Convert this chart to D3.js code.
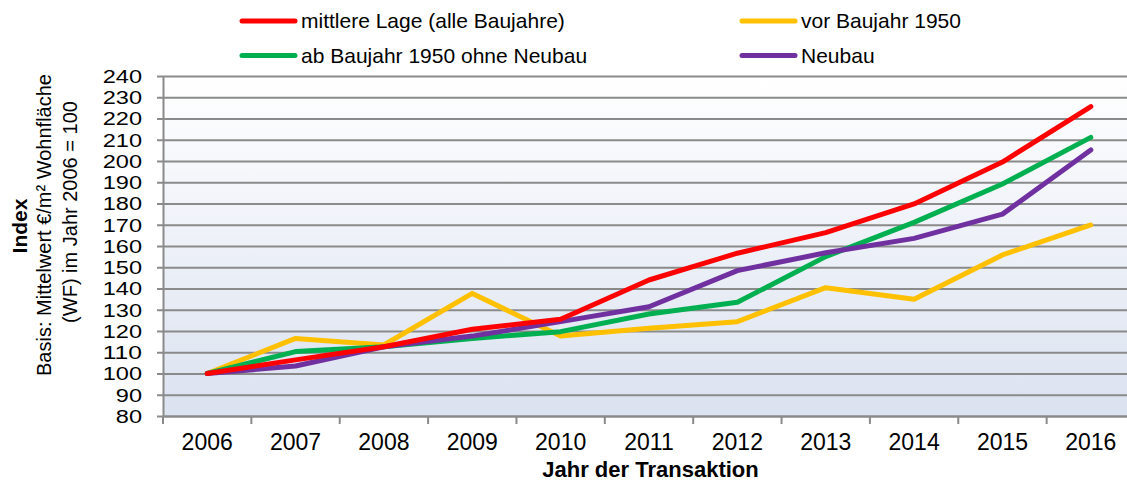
<!DOCTYPE html>
<html><head><meta charset="utf-8">
<script src="https://cdn.jsdelivr.net/npm/d3@7/dist/d3.min.js"></script>
<style>
html,body{margin:0;padding:0;background:#fff;}
svg{display:block;font-family:"Liberation Sans",Arial,sans-serif;}
</style></head>
<body><svg id="c" width="1127" height="481"></svg>
<script>
const years = ["2006","2007","2008","2009","2010","2011","2012","2013","2014","2015","2016"];
const mittlereLage = [100,106.4,112.6,120.8,125.5,144,156.6,166.3,179.8,199.5,225.6];
const vorBaujahr1950 = [100,116.5,113.4,137.7,117.6,121.3,124.4,140.4,134.9,155.8,169.9];
const abBaujahr1950 = [100,110.3,112.6,116.5,119.7,128,133.5,155,171.1,189.2,211.1];
const neubau = [100,103.5,112.6,117.6,124.4,131.4,148.4,156.8,163.6,175,205.2];
const yTicks = [80,90,100,110,120,130,140,150,160,170,180,190,200,210,220,230,240];
const seriesNames = ["mittlere Lage (alle Baujahre)","vor Baujahr 1950","ab Baujahr 1950 ohne Neubau","Neubau"];
const seriesColors = ["#ff0000","#ffc000","#00b050","#7030a0"];
const seriesValues = [mittlereLage, vorBaujahr1950, abBaujahr1950, neubau];

const svg = d3.select("#c");
const L = 163, R = 1135, T = 76, B = 416;
const x = d3.scaleBand().domain(years).range([L, R]).paddingInner(0).paddingOuter(0);
const y = d3.scaleLinear().domain([80, 240]).range([B, T]);

// background gradient
const defs = svg.append("defs");
const grad = defs.append("linearGradient").attr("id","bg").attr("x1",0).attr("y1",0).attr("x2",0).attr("y2",1);
grad.append("stop").attr("offset","0%").attr("stop-color","#ffffff");
grad.append("stop").attr("offset","100%").attr("stop-color","#dbe2f0");
svg.append("rect").attr("x",L).attr("y",T).attr("width",R-L).attr("height",B-T).attr("fill","url(#bg)");

// gridlines
const grid = svg.append("g").attr("transform",`translate(${L},0)`)
  .call(d3.axisLeft(y).tickValues(yTicks).tickSize(-(R-L)).tickFormat(""));
grid.select(".domain").remove();
grid.selectAll("line").attr("stroke","#8a8a8a").attr("stroke-width",2);

// y axis
const ya = svg.append("g").attr("transform",`translate(${L},0)`)
  .call(d3.axisLeft(y).tickValues(yTicks).tickSize(6).tickPadding(15).tickSizeOuter(0));
ya.select(".domain").attr("stroke","#8a8a8a").attr("stroke-width",2);
ya.selectAll("line").attr("stroke","#8a8a8a").attr("stroke-width",2);
ya.selectAll("text").attr("font-size",18).attr("fill","#000").attr("font-family","Liberation Sans, Arial, sans-serif")
  .attr("dy","0.36em")
  .attr("textLength",function(){ return this.textContent.length*13.1; })
  .attr("lengthAdjust","spacingAndGlyphs");

// x axis
const xa = svg.append("g").attr("transform",`translate(0,${B})`)
  .call(d3.axisBottom(x).tickSize(0).tickPadding(18).tickSizeOuter(0));
xa.select(".domain").attr("stroke","#8a8a8a").attr("stroke-width",2);
xa.selectAll("text").attr("font-size",23).attr("fill","#000").attr("font-family","Liberation Sans, Arial, sans-serif");
// boundary ticks
svg.append("g").selectAll("line").data(years).join("line")
  .attr("x1",d=>x(d)).attr("x2",d=>x(d)).attr("y1",B).attr("y2",B+8)
  .attr("stroke","#8a8a8a").attr("stroke-width",2);

// lines
const line = d3.line().x((d,i)=>x(years[i])+x.bandwidth()/2).y(d=>y(d));
const order = [1,2,3,0];
order.forEach(k=>{
  svg.append("path").datum(seriesValues[k]).attr("d",line)
    .attr("fill","none").attr("stroke",seriesColors[k]).attr("stroke-width",5)
    .attr("stroke-linejoin","round").attr("stroke-linecap","round");
});

// legend
const legPos = [[242,21],[742,21],[242,55.5],[742,55.5]];
seriesNames.forEach((n,i)=>{
  const g = svg.append("g").attr("transform",`translate(${legPos[i][0]},${legPos[i][1]})`);
  g.append("line").attr("x1",0).attr("x2",53).attr("y1",0).attr("y2",0)
    .attr("stroke",seriesColors[i]).attr("stroke-width",5).attr("stroke-linecap","round");
  g.append("text").attr("x",59).attr("y",0).attr("dy","0.35em").attr("font-size",21).attr("fill","#000").text(n);
});

// axis titles
svg.append("text").attr("x",650.5).attr("y",477).attr("text-anchor","middle")
  .attr("font-size",22).attr("font-weight","bold").text("Jahr der Transaktion");
svg.append("text").attr("transform","translate(27,226) rotate(-90)").attr("text-anchor","middle")
  .attr("font-size",21).attr("font-weight","bold").text("Index");
svg.append("text").attr("transform","translate(51,225) rotate(-90)").attr("text-anchor","middle")
  .attr("font-size",20).text("Basis: Mittelwert €/m² Wohnfläche");
svg.append("text").attr("transform","translate(77,212) rotate(-90)").attr("text-anchor","middle")
  .attr("font-size",20).text("(WF) im Jahr 2006 = 100");
</script></body></html>
